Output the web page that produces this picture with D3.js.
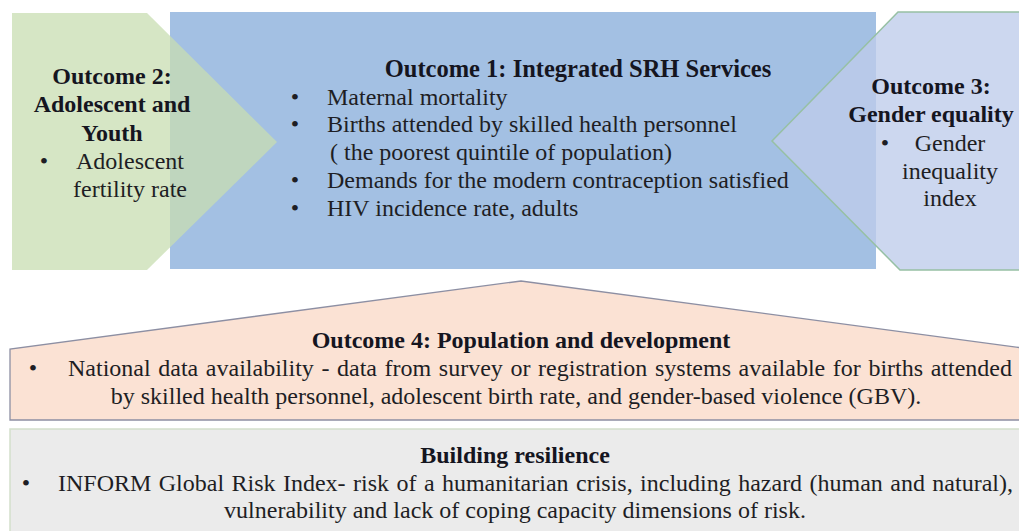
<!DOCTYPE html>
<html><head><meta charset="utf-8">
<script src="https://cdn.jsdelivr.net/npm/d3@7"></script>
<style>html,body{margin:0;padding:0;background:#fff;}svg{display:block;}</style>
</head><body>
<script>
// ---- content ----
const outcome1Title = ["Outcome 1: Integrated SRH Services"];
const outcome1Items = [["Maternal mortality"],
  ["Births attended by skilled health personnel", "( the poorest quintile of population)"],
  ["Demands for the modern contraception satisfied"],
  ["HIV incidence rate, adults"]];
const outcome2Title = ["Outcome 2:", "Adolescent and", "Youth"];
const outcome2Items = [["Adolescent", "fertility rate"]];
const outcome3Title = ["Outcome 3:", "Gender equality"];
const outcome3Items = [["Gender", "inequality", "index"]];
const outcome4Title = ["Outcome 4: Population and development"];
const outcome4Items = [["National data availability - data from survey or registration systems available for births attended",
  "by skilled health personnel, adolescent birth rate, and gender-based violence (GBV)."]];
const resilienceTitle = ["Building resilience"];
const resilienceItems = [["INFORM Global Risk Index- risk of a humanitarian crisis, including hazard (human and natural),",
  "vulnerability and lack of coping capacity dimensions of risk."]];

const W = 1019, H = 531;
const FS = 24, LH = 27.8;

const svg = d3.select("body").append("svg").attr("width", W).attr("height", H);
const line = d3.line();

// ---- shapes ----
svg.append("rect").attr("x", 170).attr("y", 12).attr("width", 706).attr("height", 257)
  .attr("fill", "#a3c0e3");
svg.append("path").attr("d", line([[12,13],[147,13],[277,142],[147,270],[12,270]]) + "Z")
  .attr("fill", "rgb(200,221,178)").attr("fill-opacity", 0.75);
svg.append("path").attr("d", line([[1030,12],[898,12],[772,141],[900,270],[1030,270]]) + "Z")
  .attr("fill", "rgb(190,204,234)").attr("fill-opacity", 0.78)
  .attr("stroke", "#97c0a4").attr("stroke-width", 1.5);
svg.append("path").attr("d", line([[10,420],[10,349],[521,281],[1030,349],[1030,420]]) + "Z")
  .attr("fill", "#fbe2d4").attr("stroke", "#8d8fa3").attr("stroke-width", 1.3);
svg.append("rect").attr("x", 10).attr("y", 429).attr("width", 1020).attr("height", 110)
  .attr("fill", "#ebebeb").attr("stroke", "#d3e0cc").attr("stroke-width", 1.5);

// ---- text helper ----
function txt(x, y, s, opt = {}) {
  const t = svg.append("text").attr("x", x).attr("y", y).text(s)
    .style("font-family", "Liberation Serif")
    .style("font-size", (opt.size || FS) + "px")
    .style("font-weight", opt.bold ? "bold" : "normal")
    .attr("fill", opt.bold ? "#15151f" : "#1e1e24")
    .attr("text-anchor", opt.anchor || "start");
  if (opt.right) {
    const nat = t.node().getComputedTextLength();
    const spaces = (s.match(/ /g) || []).length;
    const extra = (opt.right - x - nat) / spaces;
    if (spaces && extra > 0) t.style("word-spacing", extra + "px");
  }
  return t;
}
const bullet = (x, y) => txt(x, y, "•", {anchor: "middle"});

// Outcome 2
outcome2Title.forEach((s, i) => txt(112, 84 + i * 28.3, s, {bold: true, anchor: "middle"}));
outcome2Items[0].forEach((s, i) => txt(130, 168.9 + i * 28.3, s, {anchor: "middle"}));
bullet(44, 168.9);

// Outcome 1
txt(578, 77, outcome1Title[0], {bold: true, anchor: "middle", size: 24.5});
let row = 0;
outcome1Items.forEach(item => {
  item.forEach((s, j) => {
    const y = 104.5 + row * LH;
    if (j === 0) bullet(295, y);
    txt(j === 0 ? 327 : 330, y, s);
    row++;
  });
});

// Outcome 3
outcome3Title.forEach((s, i) => txt(931, 94 + i * 28, s, {bold: true, anchor: "middle"}));
outcome3Items[0].forEach((s, i) => txt(950, 151 + i * 27.5, s, {anchor: "middle"}));
bullet(885, 151);

// Outcome 4
txt(521, 348, outcome4Title[0], {bold: true, anchor: "middle"});
bullet(33, 376);
txt(68, 376, outcome4Items[0][0], {right: 1012});
txt(516, 404, outcome4Items[0][1], {anchor: "middle"});

// Building resilience
txt(515, 463, resilienceTitle[0], {bold: true, anchor: "middle"});
bullet(26, 491);
txt(58, 491, resilienceItems[0][0], {right: 1013});
txt(515, 518, resilienceItems[0][1], {anchor: "middle"});
</script>
</body></html>
